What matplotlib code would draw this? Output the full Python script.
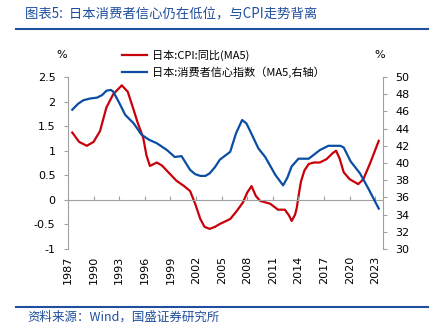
import matplotlib.pyplot as plt

plt.rcParams['font.family'] = ['DejaVu Sans', 'Noto Sans CJK SC']

# 日本 CPI 同比 (MA5), 左轴
cpi_years = [1987.5, 1988.3, 1989.2, 1990.0, 1990.75, 1991.5, 1992.3, 1993.3, 1994.0, 1994.6,
             1995.2, 1995.8, 1996.2, 1996.6, 1997.4, 1998.0, 1998.6, 1999.7, 2000.6, 2001.3,
             2001.9, 2002.5, 2003.0, 2003.6, 2004.2, 2004.8, 2006.0, 2006.8, 2007.5, 2008.0,
             2008.5, 2009.0, 2009.5, 2010.7, 2011.6, 2012.4, 2012.9, 2013.2, 2013.6, 2013.8,
             2014.1, 2014.3, 2014.7, 2015.2, 2015.8, 2016.5, 2017.3, 2018.0, 2018.4, 2018.8,
             2019.3, 2020.0, 2020.6, 2021.0, 2021.6, 2022.4, 2023.4]
cpi_vals = [1.37, 1.18, 1.10, 1.18, 1.40, 1.88, 2.15, 2.33, 2.20, 1.88,
            1.55, 1.27, 0.90, 0.69, 0.76, 0.70, 0.59, 0.39, 0.28, 0.18,
            -0.08, -0.39, -0.55, -0.59, -0.55, -0.49, -0.39, -0.22, -0.05, 0.15,
            0.28, 0.08, -0.02, -0.08, -0.20, -0.20, -0.32, -0.43, -0.30, -0.16,
            0.18, 0.38, 0.60, 0.73, 0.76, 0.76, 0.83, 0.95, 1.00, 0.85,
            0.56, 0.42, 0.36, 0.32, 0.42, 0.75, 1.20]

# 日本消费者信心指数 (MA5), 右轴
conf_years = [1987.5, 1988.2, 1988.8, 1989.6, 1990.4, 1991.0, 1991.5, 1992.0, 1992.3, 1993.0,
              1993.7, 1994.7, 1995.6, 1996.5, 1997.4, 1998.6, 1999.5, 2000.3, 2001.3, 2001.9,
              2002.5, 2003.1, 2003.6, 2004.2, 2004.8, 2006.0, 2006.7, 2007.4, 2007.9, 2008.3,
              2009.3, 2010.1, 2011.3, 2012.2, 2012.7, 2013.2, 2014.0, 2015.2, 2016.5, 2017.5,
              2018.9, 2019.3, 2020.1, 2021.2, 2022.2, 2023.4]
conf_vals = [46.2, 46.9, 47.3, 47.5, 47.6, 47.9, 48.4, 48.5, 48.3, 47.0,
             45.6, 44.6, 43.3, 42.7, 42.3, 41.5, 40.7, 40.8, 39.2, 38.7,
             38.5, 38.5, 38.8, 39.5, 40.4, 41.3, 43.5, 45.0, 44.6, 43.8,
             41.7, 40.7, 38.6, 37.4, 38.3, 39.6, 40.5, 40.5, 41.5, 42.0,
             42.0, 41.8, 40.2, 38.8, 37.0, 34.7]

year_ticks = list(range(1987, 2024, 3))
left_ticks = [-1, -0.5, 0, 0.5, 1, 1.5, 2, 2.5]
left_labels = ['-1', '-0.5', '0', '0.5', '1', '1.5', '2', '2.5']
right_ticks = list(range(30, 51, 2))

red = '#C8000A'
blue = '#0B4DA2'
grey = '#A0A0A0'
navy = '#1F4E9E'
cjk = ['Noto Sans CJK SC', 'DejaVu Sans']

fig = plt.figure(figsize=(4.4, 3.33), dpi=100)
ax = fig.add_axes([68 / 440, 1 - 249 / 333, (383 - 68) / 440, (249 - 77) / 333])
ax2 = ax.twinx()

l1, = ax.plot(cpi_years, cpi_vals, color=red, lw=1.6)
l2, = ax2.plot(conf_years, conf_vals, color=blue, lw=1.6)

ax.set_xlim(1987, 2023.9)
ax.set_ylim(-1, 2.5)
ax2.set_ylim(30, 50)

ax.axhline(0, color=grey, lw=0.8)
ax.vlines(year_ticks, 0, 0.07, color=grey, lw=0.8)

ax.set_xticks(year_ticks)
ax.set_xticklabels([str(y) for y in year_ticks], rotation=90, fontsize=8)
ax.tick_params(axis='x', length=0, pad=5)
ax.set_yticks(left_ticks)
ax.set_yticklabels(left_labels, fontsize=8)
ax.tick_params(axis='y', length=3, color=grey, pad=6)
ax2.set_yticks(right_ticks)
ax2.set_yticklabels([str(v) for v in right_ticks], fontsize=8)
ax2.tick_params(axis='y', length=3, color=grey, pad=6)

for a in (ax, ax2):
    a.spines['top'].set_visible(False)
    a.spines['bottom'].set_visible(False)
    a.spines['left'].set_color(grey)
    a.spines['right'].set_color(grey)
ax.spines['right'].set_visible(False)
ax2.spines['left'].set_visible(False)

fig.text(62 / 440, 1 - 55 / 333, '%', fontsize=8, ha='center', va='center')
fig.text(380 / 440, 1 - 55 / 333, '%', fontsize=8, ha='center', va='center')

fig.legend([l1, l2], ['日本:CPI:同比(MA5)', '日本:消费者信心指数（MA5,右轴）'],
           loc='upper left', bbox_to_anchor=(116 / 440, 1 - 44 / 333), frameon=False,
           handlelength=2.3, handletextpad=0.4, labelspacing=0.55, borderpad=0,
           prop={'family': cjk, 'size': 8})

# 标题与来源
fig.text(25 / 440, 1 - 14 / 333, '图表5:  日本消费者信心仍在低位，与CPI走势背离', color=navy,
         fontsize=9.6, family=cjk, style='italic', ha='left', va='center')
fig.add_artist(plt.Line2D([16 / 440, 428 / 440], [1 - 29 / 333, 1 - 29 / 333],
                          color=navy, lw=1.5))
fig.add_artist(plt.Line2D([16 / 440, 428 / 440], [1 - 307 / 333, 1 - 307 / 333],
                          color=navy, lw=1.5))
fig.text(27 / 440, 1 - 317 / 333, '资料来源：Wind，国盛证券研究所', color=navy,
         fontsize=9, family=cjk, style='italic', ha='left', va='center')

fig.savefig('out.png', dpi=100)
